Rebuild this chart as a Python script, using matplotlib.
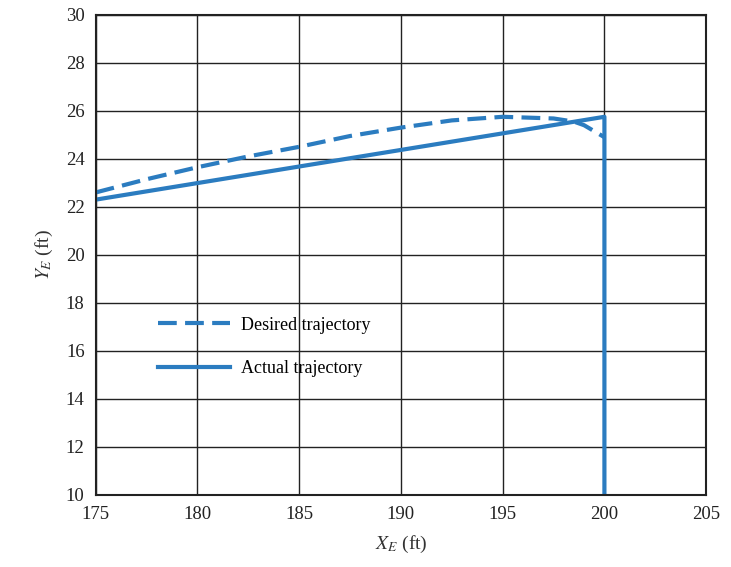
import matplotlib.pyplot as plt

# Desired trajectory (dashed)
x_desired = [175, 177.5, 180, 182.5, 185, 187.5, 190, 192.5, 195, 197.5, 198.5, 199, 200]
y_desired = [22.6, 23.15, 23.65, 24.1, 24.5, 24.95, 25.3, 25.6, 25.75, 25.68, 25.55, 25.4, 24.9]

# Actual trajectory (solid)
x_actual = [175, 200, 200]
y_actual = [22.3, 25.75, 10]

xticks = [175, 180, 185, 190, 195, 200, 205]
yticks = [10, 12, 14, 16, 18, 20, 22, 24, 26, 28, 30]

plt.rcParams['font.family'] = ['Liberation Serif', 'DejaVu Serif']
plt.rcParams['mathtext.fontset'] = 'stix'

fig = plt.figure(figsize=(7.31, 5.67), dpi=100)
ax = fig.add_axes([0.131, 0.127, 0.835, 0.847])

blue = '#2b7cc0'
ax.plot(x_desired, y_desired, color=blue, lw=3, dashes=(4.5, 2), label='Desired trajectory')
ax.plot(x_actual, y_actual, color=blue, lw=3, label='Actual trajectory')

ax.set_xlim(175, 205)
ax.set_ylim(10, 30)
ax.set_xticks(xticks)
ax.set_yticks(yticks)
ax.tick_params(length=0, labelsize=13.5, pad=8, colors='#222222')
ax.grid(True, color='#222222', lw=1)
for s in ax.spines.values():
    s.set_color('#222222')
    s.set_linewidth(1.5)

ax.set_xlabel(r'$X_E$ (ft)', fontsize=14, color='#333333', labelpad=8)
ax.set_ylabel(r'$Y_E$ (ft)', fontsize=14, color='#333333', labelpad=8)

ax.legend(loc='upper left', bbox_to_anchor=(0.075, 0.405), frameon=False,
          fontsize=13, handlelength=4, labelspacing=1.45, handletextpad=0.6)

plt.savefig('out.png', dpi=100)
